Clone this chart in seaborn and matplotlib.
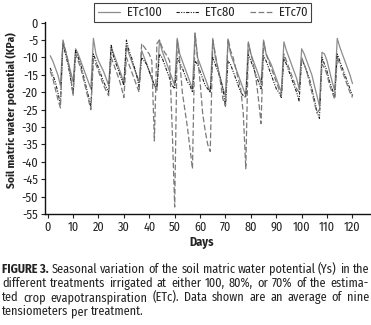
import matplotlib
matplotlib.use("Agg")
import matplotlib.pyplot as plt
import seaborn as sns
import numpy as np
import pandas as pd
import os
from matplotlib import font_manager as fm

days = list(range(1, 121))

etc100 = [-9.5, -11, -13, -15, -18, -5.5, -8, -11, -14, -17,
          -7.5, -9, -11, -13, -15, -17, -19, -4.5, -9, -11,
          -12.5, -14, -16, -18, -7, -9, -11, -13, -15, -17.5,
          -6.5, -9, -11, -13, -15, -17, -8, -10, -12, -14,
          -16, -18, -19.5, -5, -8, -10, -12, -14, -16, -18,
          -4.5, -9, -11, -13, -15, -17, -19, -3, -10, -12,
          -14, -16, -18, -20, -4.5, -10, -13, -16, -19, -21,
          -5, -9, -11, -13, -15, -17, -19, -21, -5.5, -9,
          -11, -13, -15, -17.5, -5, -9, -10.5, -12, -14, -16,
          -18, -20, -5.5, -8, -10, -12, -14, -16, -19, -7.5,
          -9, -11, -13, -15, -18, -21, -24, -8.5, -9, -11,
          -14, -17, -19.5, -4.5, -7, -9, -11, -13, -15, -17.5]

etc80 = [-13, -15, -17, -20, -23.5, -6, -9, -12, -16, -20.5,
         -8, -10, -12, -15, -18, -21, -24, -9, -11, -13,
         -15, -17, -18.5, -20, -6.5, -10, -12, -14, -16, -18,
         -5, -8, -10, -12.5, -15, -18.5, -10, -11, -12, -14,
         -16, -18, -18.5, -9, -10, -12, -14, -16, -18, -19,
         -10, -11.5, -13, -15, -17, -18, -20, -11, -12, -14,
         -16, -18, -19, -20, -10, -12, -14, -16, -19, -24,
         -11, -12, -14, -16, -18, -20, -21, -21.5, -9, -11,
         -13, -15, -17, -19, -9.5, -11, -13, -15, -17, -19,
         -20, -21.5, -10, -12, -14, -16, -18, -20, -22.5, -10.5,
         -12, -14, -16, -19, -22, -25.5, -27.5, -10, -12, -14,
         -17, -19, -21.5, -9, -11, -13, -15, -17, -19, -21]

etc70 = [-14, -16, -19, -22, -24.5, -5, -8, -11, -15, -21,
         -9, -11, -13, -16, -19, -22, -25, -10.5, -12, -14,
         -16, -18, -19.5, -21, -10, -12, -14, -16, -18.5, -21.5,
         -10, -12, -14, -16, -18, -20, -6, -7, -8, -9,
         -11, -34, -6, -5, -7, -8.5, -9.5, -11, -30, -53,
         -5, -11, -20, -25, -30, -36, -42, -3, -10, -17,
         -26, -31, -35, -37, -5, -9, -13, -17, -22, -24,
         -4.5, -8, -10, -13, -16, -19, -26, -42, -6, -9,
         -12, -16, -22, -29, -5.5, -9, -11, -13, -15, -17,
         -19, -21, -9, -11, -13, -15, -17, -19, -20, -10,
         -12, -14, -17, -20, -23, -26, -25, -12, -13, -15,
         -18, -20, -22, -10, -12, -14, -16, -18, -20, -21.5]

series_names = ["ETc100", "ETc80", "ETc70"]
series_vals = [etc100, etc80, etc70]
series_colors = ["#8c8c8c", "#1e1e1e", "#7a7a7a"]
series_styles = ["-", (0, (3, 1.2, 1, 1.2, 1, 1.2)), (0, (4.5, 2))]
series_lw = [0.9, 0.8, 0.9]

yticks = list(range(0, -56, -5))
xticks = list(range(0, 121, 10))

caption_lines = [
    [("FIGURE 3.", True), ("Seasonal", False), ("variation", False), ("of", False), ("the", False),
     ("soil", False), ("matric", False), ("water", False), ("potential", False), ("(Ys)", False),
     ("in", False), ("the", False)],
    [("different", False), ("treatments", False), ("irrigated", False), ("at", False), ("either", False),
     ("100,", False), ("80%,", False), ("or", False), ("70%", False), ("of", False), ("the", False),
     ("estima-", False)],
    [("ted", False), ("crop", False), ("evapotranspiration", False), ("(ETc).", False), ("Data", False),
     ("shown", False), ("are", False), ("an", False), ("average", False), ("of", False), ("nine", False)],
    [("tensiometers", False), ("per", False), ("treatment.", False)],
]

sns.set_style("ticks")
plt.rcParams["font.family"] = ["DejaVu Sans"]
plt.rcParams["axes.unicode_minus"] = False

_all = list(dict.fromkeys(fm.findSystemFonts() + [f.fname for f in fm.fontManager.ttflist]))
_by_base = {os.path.basename(f).lower(): f for f in _all}


def pick(names):
    for n in names:
        if n.lower() in _by_base:
            return _by_base[n.lower()]
    return None


reg_file = pick(["ArchivoNarrow-Regular.ttf", "LiberationSansNarrow-Regular.ttf",
                 "FiraSansCondensed-Regular.ttf", "IBMPlexSansCondensed-Regular.ttf",
                 "BarlowCondensed-Regular.ttf", "Roboto-Regular.ttf"])
bold_file = pick(["ArchivoNarrow-Bold.ttf", "LiberationSansNarrow-Bold.ttf",
                  "FiraSansCondensed-Bold.ttf", "IBMPlexSansCondensed-Bold.ttf",
                  "BarlowCondensed-Bold.ttf", "Roboto-Bold.ttf"])


def fp(size, bold=False):
    f = bold_file if bold else reg_file
    if f:
        return fm.FontProperties(fname=f, size=size)
    return fm.FontProperties(family="DejaVu Sans", size=size * 0.85,
                             weight="bold" if bold else "normal")


W, H = 371, 325
fig = plt.figure(figsize=(W / 100, H / 100), dpi=100)
ax = fig.add_axes([45 / W, 1 - 214 / H, 325 / W, (214 - 22) / H])

for name, vals, c, ls, lw in zip(series_names, series_vals, series_colors, series_styles, series_lw):
    df = pd.DataFrame({"Days": days, "val": vals})
    sns.lineplot(data=df, x="Days", y="val", ax=ax, color=c, linestyle=ls, linewidth=lw, label=name)

ax.set_xlim(-1.06, 126.9)
ax.set_ylim(-55, 0.2)
ax.set_xticks(xticks)
ax.set_yticks(yticks)
ax.set_xticklabels([str(t) for t in xticks], fontproperties=fp(8.8))
ax.set_yticklabels([str(t) for t in yticks], fontproperties=fp(8.8))
ax.tick_params(axis="both", length=3, width=0.8, pad=2, colors="#222222")
for s in ["top", "right"]:
    ax.spines[s].set_visible(False)
for s in ["left", "bottom"]:
    ax.spines[s].set_linewidth(1.0)
    ax.spines[s].set_color("#111111")

ax.set_xlabel("")
ax.set_ylabel("")
fig.text(11 / W, 1 - 110 / H, "Soil matric water potential (KPa)", rotation=90,
         fontproperties=fp(8.2, True), ha="center", va="center", color="#222222")
fig.text(202 / W, 1 - 243 / H, "Days", fontproperties=fp(8.8, True), ha="center", va="center",
         color="#222222")

if ax.legend_:
    ax.legend_.remove()
handles, labels = ax.get_legend_handles_labels()
leg = fig.legend(handles, labels, loc="center", bbox_to_anchor=(202.5 / W, 1 - 12.5 / H), ncol=3,
                 frameon=True, fancybox=False, prop=fp(9), handlelength=1.8, handletextpad=0.5,
                 columnspacing=1.2, borderpad=0.3, borderaxespad=0)
leg.get_frame().set_edgecolor("#111111")
leg.get_frame().set_linewidth(0.8)
for t in leg.get_texts():
    t.set_color("#222222")

# caption, justified
fig.canvas.draw()
renderer = fig.canvas.get_renderer()
left_px, right_px = 2, 369
line_y = [269, 283, 297.5, 311.5]
cap_size = 9.2
while True:
    ok = True
    for words in caption_lines:
        tmp = [fig.text(0, 0, w, fontproperties=fp(cap_size, b)) for w, b in words]
        tot = sum(t.get_window_extent(renderer).width for t in tmp) + 2.5 * (len(words) - 1)
        for t in tmp:
            t.remove()
        if tot > right_px - left_px:
            ok = False
            break
    if ok or cap_size < 6:
        break
    cap_size -= 0.2

for li, (words, yy) in enumerate(zip(caption_lines, line_y)):
    texts = []
    for w, b in words:
        t = fig.text(0, 1 - yy / H, w, fontproperties=fp(cap_size, b),
                     ha="left", va="center", color="#222222")
        texts.append(t)
    widths = [t.get_window_extent(renderer).width for t in texts]
    if li < len(caption_lines) - 1:
        gap = (right_px - left_px - sum(widths)) / (len(texts) - 1)
    else:
        gap = 3.0
    x = left_px
    for t, w in zip(texts, widths):
        t.set_x(x / W)
        x += w + gap

fig.savefig("out.png", dpi=100)
